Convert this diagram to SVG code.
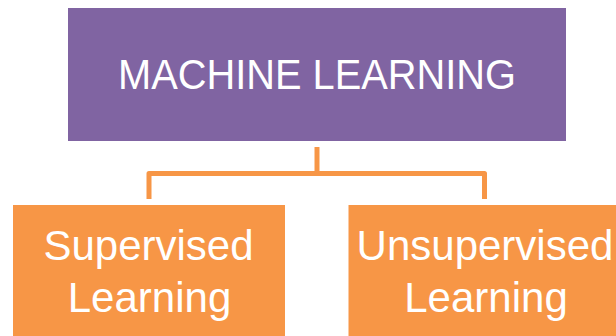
<svg xmlns="http://www.w3.org/2000/svg" width="616" height="336" viewBox="0 0 616 336">
  <style>
    .lbl { font-family: "Liberation Sans", Arial, sans-serif; fill: #FFFFFF; text-anchor: middle; }
    .conn { fill: none; stroke: #F79646; stroke-width: 5; stroke-linejoin: round; }
  </style>
  <rect width="616" height="336" fill="#FFFFFF"/>
  <g id="connectors">
    <path class="conn" d="M149 199 V173.5 H484.5 V199"/>
    <path class="conn" d="M317 147 V173.5"/>
  </g>
  <g id="machine-learning">
    <rect x="68" y="8" width="498" height="133" fill="#8064A2"/>
    <text class="lbl" x="317" y="89" font-size="42" textLength="398" lengthAdjust="spacingAndGlyphs">MACHINE LEARNING</text>
  </g>
  <g id="supervised-learning">
    <rect x="13" y="205" width="272" height="131" fill="#F79646"/>
    <text class="lbl" x="148.5" y="259.5" font-size="42">Supervised</text>
    <text class="lbl" x="149.5" y="312" font-size="42">Learning</text>
  </g>
  <g id="unsupervised-learning">
    <rect x="348.5" y="205" width="267.5" height="131" fill="#F79646"/>
    <text class="lbl" x="485" y="259.5" font-size="42">Unsupervised</text>
    <text class="lbl" x="486" y="312" font-size="42">Learning</text>
  </g>
</svg>
